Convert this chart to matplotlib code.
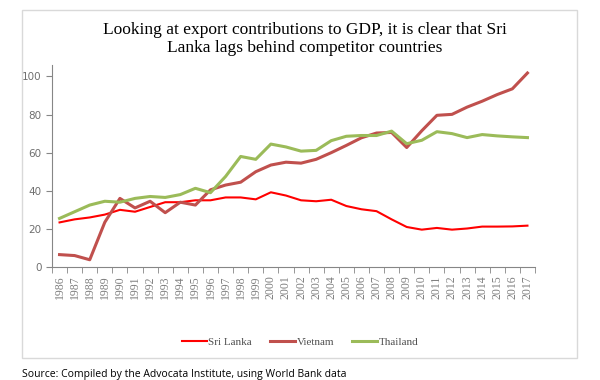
import matplotlib.pyplot as plt
from matplotlib.patches import Rectangle

years = [str(y) for y in range(1986, 2018)]

sri_lanka = [23.4, 25.0, 26.0, 27.5, 30.0, 29.0, 31.5, 34.0, 34.0, 35.0, 35.0, 36.5,
             36.5, 35.5, 39.2, 37.5, 35.0, 34.5, 35.3, 32.0, 30.3, 29.3, 25.0, 21.0,
             19.6, 20.5, 19.6, 20.2, 21.2, 21.2, 21.3, 21.7]
vietnam = [6.5, 6.0, 3.8, 23.5, 36.0, 31.0, 34.5, 28.5, 34.0, 32.5, 40.5, 43.0,
           44.5, 50.0, 53.5, 55.0, 54.5, 56.5, 60.0, 63.8, 67.8, 70.3, 70.6, 62.7,
           71.5, 79.6, 80.1, 83.9, 87.0, 90.5, 93.5, 101.8]
thailand = [25.5, 29.0, 32.5, 34.5, 34.0, 36.0, 37.0, 36.5, 38.0, 41.3, 39.0, 47.5,
            58.0, 56.5, 64.5, 63.0, 60.8, 61.2, 66.3, 68.6, 69.0, 69.0, 71.3, 64.7,
            66.5, 71.0, 70.0, 67.9, 69.5, 68.8, 68.3, 67.9]

series = [("Sri Lanka", sri_lanka, "#ff0000", 1.5),
          ("Vietnam", vietnam, "#c0504d", 2.2),
          ("Thailand", thailand, "#9bbb59", 2.2)]

fig = plt.figure(figsize=(6, 3.8), dpi=100)
fig.patches.append(Rectangle((22 / 600, 1 - 358 / 380), 555 / 600, 348 / 380,
                             transform=fig.transFigure, fill=False,
                             edgecolor="#d9d9d9", linewidth=1))

ax = fig.add_axes([52 / 600, 1 - 267 / 380, 483 / 600, 202 / 380])
x = list(range(len(years)))
for name, vals, col, lw in series:
    ax.plot(x, vals, color=col, linewidth=lw, label=name)

ax.set_xlim(-0.5, len(years) - 0.5)
ax.set_ylim(0, 106)
ax.set_yticks([0, 20, 40, 60, 80, 100])
ax.set_xticks(x)
ax.set_xticklabels(years, rotation=90, family="Liberation Serif", fontsize=8.5, color="#7f7f7f")
ax.set_xticks([i - 0.5 for i in range(len(years) + 1)], minor=True)
ax.tick_params(axis="x", which="major", length=0, pad=6)
ax.tick_params(axis="x", which="minor", length=4, color="#868686")
ax.tick_params(axis="y", labelsize=7.5, labelcolor="#6f6f6f", length=4, color="#868686")
for s in ["top", "right"]:
    ax.spines[s].set_visible(False)
for s in ["left", "bottom"]:
    ax.spines[s].set_color("#868686")

fig.text(0.508, 1 - 39 / 380,
         "Looking at export contributions to GDP, it is clear that Sri\nLanka lags behind competitor countries",
         ha="center", va="center", family="Liberation Serif", fontsize=12.5, linespacing=1.15)

fig.legend(loc="center", bbox_to_anchor=(0.5, 1 - 342 / 380), ncol=3, frameon=False,
           prop={"family": "Liberation Serif", "size": 8}, handlelength=2.3,
           handletextpad=0.1, columnspacing=1.6, labelcolor="#505050")

fig.text(22 / 600, 1 - 374 / 380, "Source: Compiled by the Advocata Institute, using World Bank data",
         ha="left", va="center", fontsize=7.5, family="Open Sans")

fig.savefig("out.png", dpi=100)
